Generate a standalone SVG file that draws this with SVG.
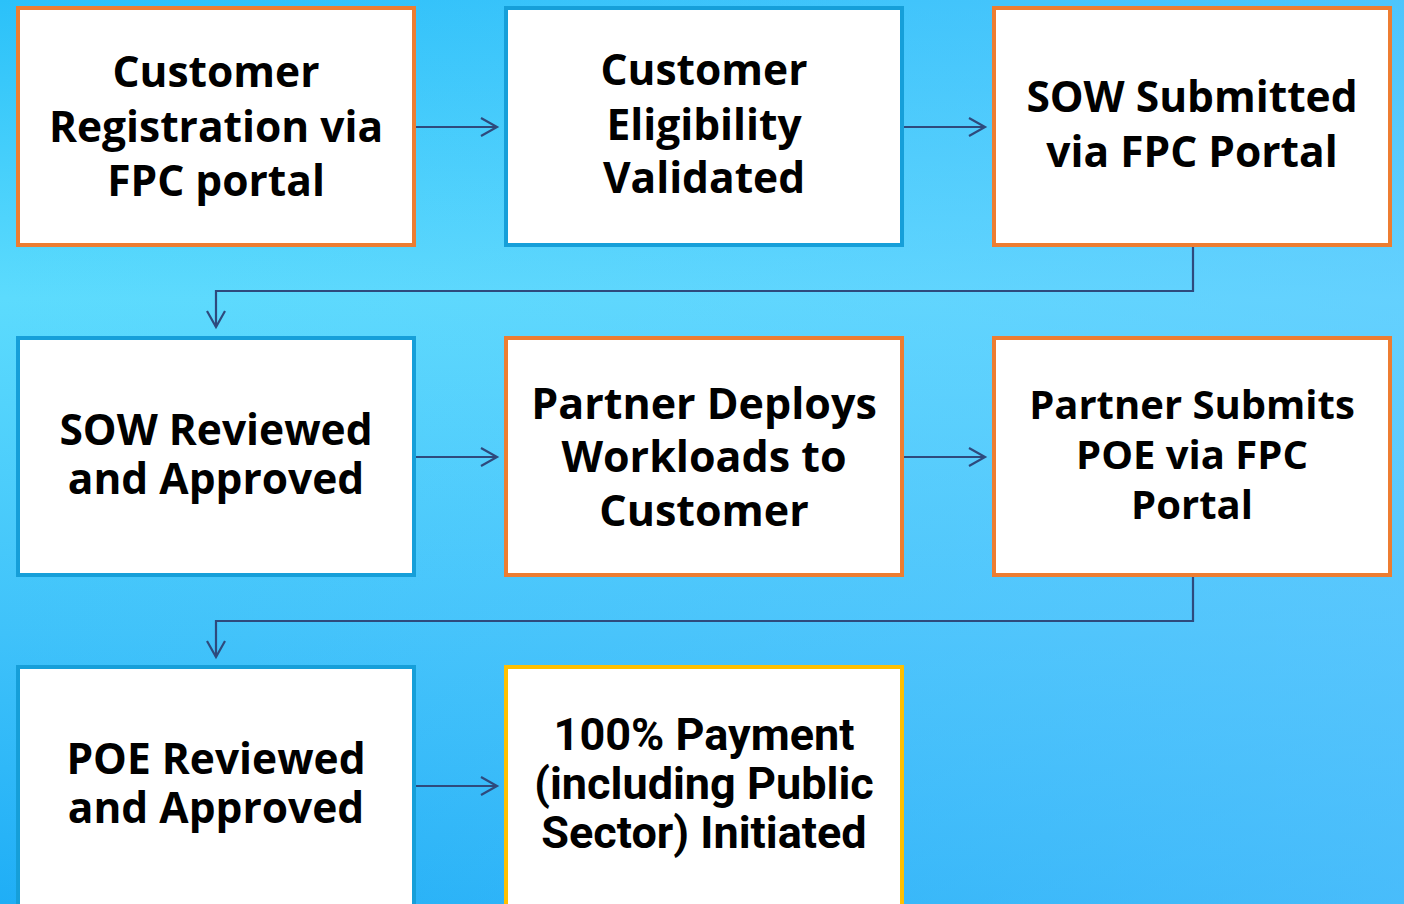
<svg xmlns="http://www.w3.org/2000/svg" width="1404" height="904" viewBox="0 0 1404 904">
<defs>
<linearGradient id="bg" x1="0" y1="0" x2="0" y2="1">
<stop offset="0" stop-color="#2BC1F9"/>
<stop offset="0.33" stop-color="#5CDBFD"/>
<stop offset="0.7" stop-color="#3FC2FA"/>
<stop offset="1" stop-color="#1FAEF6"/>
</linearGradient>
<linearGradient id="bg2" x1="0" y1="0" x2="1" y2="0">
<stop offset="0" stop-color="#66CCFF" stop-opacity="0"/>
<stop offset="1" stop-color="#6AC8FF" stop-opacity="0.55"/>
</linearGradient>
<marker id="arr" markerWidth="24" markerHeight="24" refX="19" refY="12" orient="auto" markerUnits="userSpaceOnUse">
<path d="M3,3 L19,12 L3,21" fill="none" stroke="#2E4A7D" stroke-width="2.2"/>
</marker>
<style>
.box{fill:#FFFFFF;stroke-width:4}
.or{stroke:#ED7D31}
.bl{stroke:#169FD9}
.ye{stroke:#FFC000}
.t{font-family:"Open Sans","Noto Sans",sans-serif;font-weight:bold;font-size:42.5px;fill:#000;text-anchor:middle}
.t2{font-family:Roboto,"Liberation Sans",sans-serif;font-weight:bold;font-size:45px;fill:#000;text-anchor:middle}
.c{fill:none;stroke:#2E4A7D;stroke-width:2.2}
</style>
</defs>
<rect width="1404" height="904" fill="url(#bg)"/>
<rect width="1404" height="904" fill="url(#bg2)"/>
<g id="connectors">
<path class="c" d="M416,127 H497" marker-end="url(#arr)"/>
<path class="c" d="M904,127 H985" marker-end="url(#arr)"/>
<path class="c" d="M1193,247 V291 H216 V327" marker-end="url(#arr)"/>
<path class="c" d="M416,457 H497" marker-end="url(#arr)"/>
<path class="c" d="M904,457 H985" marker-end="url(#arr)"/>
<path class="c" d="M1193,577 V621 H216 V657" marker-end="url(#arr)"/>
<path class="c" d="M416,786 H497" marker-end="url(#arr)"/>
</g>
<g id="n1">
<rect class="box or" x="18" y="8" width="396" height="237"/>
<text class="t" x="216" y="87">Customer</text>
<text class="t" x="216" y="142">Registration via</text>
<text class="t" x="216" y="196">FPC portal</text>
</g>
<g id="n2">
<rect class="box bl" x="506" y="8" width="396" height="237"/>
<text class="t" x="704" y="85">Customer</text>
<text class="t" x="704" y="140">Eligibility</text>
<text class="t" x="704" y="193">Validated</text>
</g>
<g id="n3">
<rect class="box or" x="994" y="8" width="396" height="237"/>
<text class="t" x="1192" y="112">SOW Submitted</text>
<text class="t" x="1192" y="167">via FPC Portal</text>
</g>
<g id="n4">
<rect class="box bl" x="18" y="338" width="396" height="237"/>
<text class="t" x="216" y="445">SOW Reviewed</text>
<text class="t" x="216" y="494">and Approved</text>
</g>
<g id="n5">
<rect class="box or" x="506" y="338" width="396" height="237"/>
<text class="t" x="704" y="419" style="font-size:43px">Partner Deploys</text>
<text class="t" x="704" y="472" style="font-size:43px">Workloads to</text>
<text class="t" x="704" y="526" style="font-size:43px">Customer</text>
</g>
<g id="n6">
<rect class="box or" x="994" y="338" width="396" height="237"/>
<text class="t" x="1192" y="419" style="font-size:40px">Partner Submits</text>
<text class="t" x="1192" y="469" style="font-size:40px">POE via FPC</text>
<text class="t" x="1192" y="519" style="font-size:40px">Portal</text>
</g>
<g id="n7">
<rect class="box bl" x="18" y="667" width="396" height="260"/>
<text class="t" x="216" y="774">POE Reviewed</text>
<text class="t" x="216" y="823">and Approved</text>
</g>
<g id="n8">
<rect class="box ye" x="506" y="667" width="396" height="260"/>
<text class="t2" x="704" y="750">100% Payment</text>
<text class="t2" x="704" y="799">(including Public</text>
<text class="t2" x="704" y="848">Sector) Initiated</text>
</g>
</svg>
